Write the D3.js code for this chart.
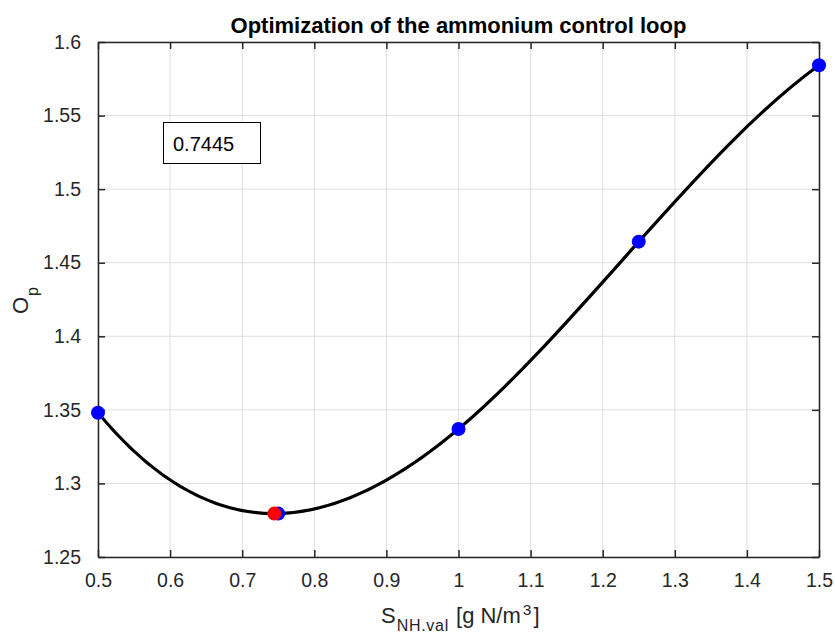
<!DOCTYPE html>
<html>
<head>
<meta charset="utf-8">
<script src="https://d3js.org/d3.v7.min.js"></script>
<style>
  body { margin: 0; background: #fff; }
  text { font-family: "Liberation Sans", Arial, Helvetica, sans-serif; fill: #262626; }
</style>
</head>
<body>
<svg></svg>
<script>
// data
var xValues = [0.5, 0.75, 1.0, 1.25, 1.5];
var yValues = [1.348, 1.2795, 1.337, 1.4643, 1.5842];
var optX = [0.7445];
var optY = [1.2795];
var xTicks = [0.5, 0.6, 0.7, 0.8, 0.9, 1, 1.1, 1.2, 1.3, 1.4, 1.5];
var yTicks = [1.25, 1.3, 1.35, 1.4, 1.45, 1.5, 1.55, 1.6];

var W = 835, H = 633;
var svg = d3.select("svg").attr("width", W).attr("height", H);

var x = d3.scaleLinear().domain([0.5, 1.5]).range([98, 819]);
var y = d3.scaleLinear().domain([1.25, 1.6]).range([557, 42]);

// not-a-knot cubic spline as a d3 curve (like matlab's spline)
function curveSpline(context) {
  var xs, ys;
  return {
    areaStart: function() {}, areaEnd: function() {},
    lineStart: function() { xs = []; ys = []; },
    point: function(px, py) { xs.push(+px); ys.push(+py); },
    lineEnd: function() {
      var n = xs.length, i, j, k;
      if (!n) return;
      context.moveTo(xs[0], ys[0]);
      if (n < 4) { for (i = 1; i < n; i++) context.lineTo(xs[i], ys[i]); return; }
      var h = [], s = [];
      for (i = 0; i < n - 1; i++) { h[i] = xs[i + 1] - xs[i]; s[i] = (ys[i + 1] - ys[i]) / h[i]; }
      var A = [], b = [];
      for (i = 0; i < n; i++) { A.push(new Array(n).fill(0)); b.push(0); }
      A[0][0] = -h[1]; A[0][1] = h[0] + h[1]; A[0][2] = -h[0];
      for (i = 1; i < n - 1; i++) {
        A[i][i - 1] = h[i - 1]; A[i][i] = 2 * (h[i - 1] + h[i]); A[i][i + 1] = h[i];
        b[i] = 6 * (s[i] - s[i - 1]);
      }
      A[n - 1][n - 3] = -h[n - 2]; A[n - 1][n - 2] = h[n - 3] + h[n - 2]; A[n - 1][n - 1] = -h[n - 3];
      // gaussian elimination
      for (k = 0; k < n; k++) {
        var p = k;
        for (i = k + 1; i < n; i++) if (Math.abs(A[i][k]) > Math.abs(A[p][k])) p = i;
        var t = A[k]; A[k] = A[p]; A[p] = t; t = b[k]; b[k] = b[p]; b[p] = t;
        for (i = k + 1; i < n; i++) {
          var f = A[i][k] / A[k][k];
          for (j = k; j < n; j++) A[i][j] -= f * A[k][j];
          b[i] -= f * b[k];
        }
      }
      var M = new Array(n);
      for (i = n - 1; i >= 0; i--) {
        var sum = b[i];
        for (j = i + 1; j < n; j++) sum -= A[i][j] * M[j];
        M[i] = sum / A[i][i];
      }
      var m = [];
      for (i = 0; i < n - 1; i++) m[i] = s[i] - h[i] * (2 * M[i] + M[i + 1]) / 6;
      m[n - 1] = s[n - 2] + h[n - 2] * (M[n - 2] + 2 * M[n - 1]) / 6;
      for (i = 0; i < n - 1; i++) {
        context.bezierCurveTo(xs[i] + h[i] / 3, ys[i] + m[i] * h[i] / 3,
                              xs[i + 1] - h[i] / 3, ys[i + 1] - m[i + 1] * h[i] / 3,
                              xs[i + 1], ys[i + 1]);
      }
    }
  };
}

// grid
svg.append("g").selectAll("line").data(xTicks).enter().append("line")
   .attr("x1", d => x(d)).attr("x2", d => x(d)).attr("y1", 42).attr("y2", 557)
   .attr("stroke", "#dfdfdf").attr("stroke-width", 1);
svg.append("g").selectAll("line").data(yTicks).enter().append("line")
   .attr("y1", d => y(d)).attr("y2", d => y(d)).attr("x1", 98).attr("x2", 819)
   .attr("stroke", "#dfdfdf").attr("stroke-width", 1);

// axes (ticks inward, mirrored on top/right)
function styleAxis(g) {
  g.select(".domain").attr("stroke", "#262626").attr("stroke-width", 1.5);
  g.selectAll(".tick line").attr("stroke", "#262626").attr("stroke-width", 1.5);
  g.selectAll("text").style("font-size", "19.5px").attr("fill", "#262626")
   .style("font-family", "'Liberation Sans', Arial, sans-serif");
}
svg.append("g").attr("transform", "translate(0,557)")
   .call(d3.axisBottom(x).tickValues(xTicks).tickSizeInner(-7).tickSizeOuter(0).tickPadding(16).tickFormat(d3.format("")))
   .call(styleAxis);
svg.append("g").attr("transform", "translate(0,42)")
   .call(d3.axisTop(x).tickValues(xTicks).tickSizeInner(-7).tickSizeOuter(0).tickFormat(""))
   .call(styleAxis);
svg.append("g").attr("transform", "translate(98,0)")
   .call(d3.axisLeft(y).tickValues(yTicks).tickSizeInner(-7).tickSizeOuter(0).tickPadding(17).tickFormat(d3.format("")))
   .call(styleAxis);
svg.append("g").attr("transform", "translate(819,0)")
   .call(d3.axisRight(y).tickValues(yTicks).tickSizeInner(-7).tickSizeOuter(0).tickFormat(""))
   .call(styleAxis);

// curve through the points
var pts = xValues.map((v, i) => [v, yValues[i]]);
var line = d3.line().x(d => x(d[0])).y(d => y(d[1])).curve(curveSpline);
svg.append("path").attr("d", line(pts)).attr("fill", "none")
   .attr("stroke", "#000").attr("stroke-width", 3.2);

svg.append("g").selectAll("circle").data(pts).enter().append("circle")
   .attr("cx", d => x(d[0])).attr("cy", d => y(d[1])).attr("r", 7).attr("fill", "#0000ff");
svg.append("g").selectAll("circle").data(optX).enter().append("circle")
   .attr("cx", d => x(d)).attr("cy", (d, i) => y(optY[i])).attr("r", 7).attr("fill", "#ff0000");

// title
svg.append("text").attr("x", 458.5).attr("y", 33).attr("text-anchor", "middle")
   .style("font-size", "22px").style("font-weight", "bold").style("fill", "#000")
   .text("Optimization of the ammonium control loop");

// x label
var xl = svg.append("text").attr("x", 381).attr("y", 623).style("font-size", "22px");
xl.append("tspan").text("S");
xl.append("tspan").attr("dy", 8).attr("dx", 1).style("font-size", "16px").style("letter-spacing", "0.7px").text("NH.val");
xl.append("tspan").attr("dy", -8).attr("dx", 1).text(" [g N/m");
xl.append("tspan").attr("dy", -8).attr("dx", 2).style("font-size", "15.5px").text("3");
xl.append("tspan").attr("dy", 8).attr("dx", 2).text("]");

// y label
var yl = svg.append("text").attr("transform", "translate(27.5,314) rotate(-90)").style("font-size", "22px");
yl.append("tspan").text("O");
yl.append("tspan").attr("dy", 10).attr("dx", 1).style("font-size", "16px").text("p");

// annotation box
svg.append("rect").attr("x", 163.5).attr("y", 122.5).attr("width", 97).attr("height", 41)
   .attr("fill", "#fff").attr("stroke", "#000").attr("stroke-width", 1);
svg.append("text").attr("x", 173).attr("y", 151).style("font-size", "20px").style("fill", "#000")
   .text(d3.format(".4f")(optX[0]));
</script>
</body>
</html>
